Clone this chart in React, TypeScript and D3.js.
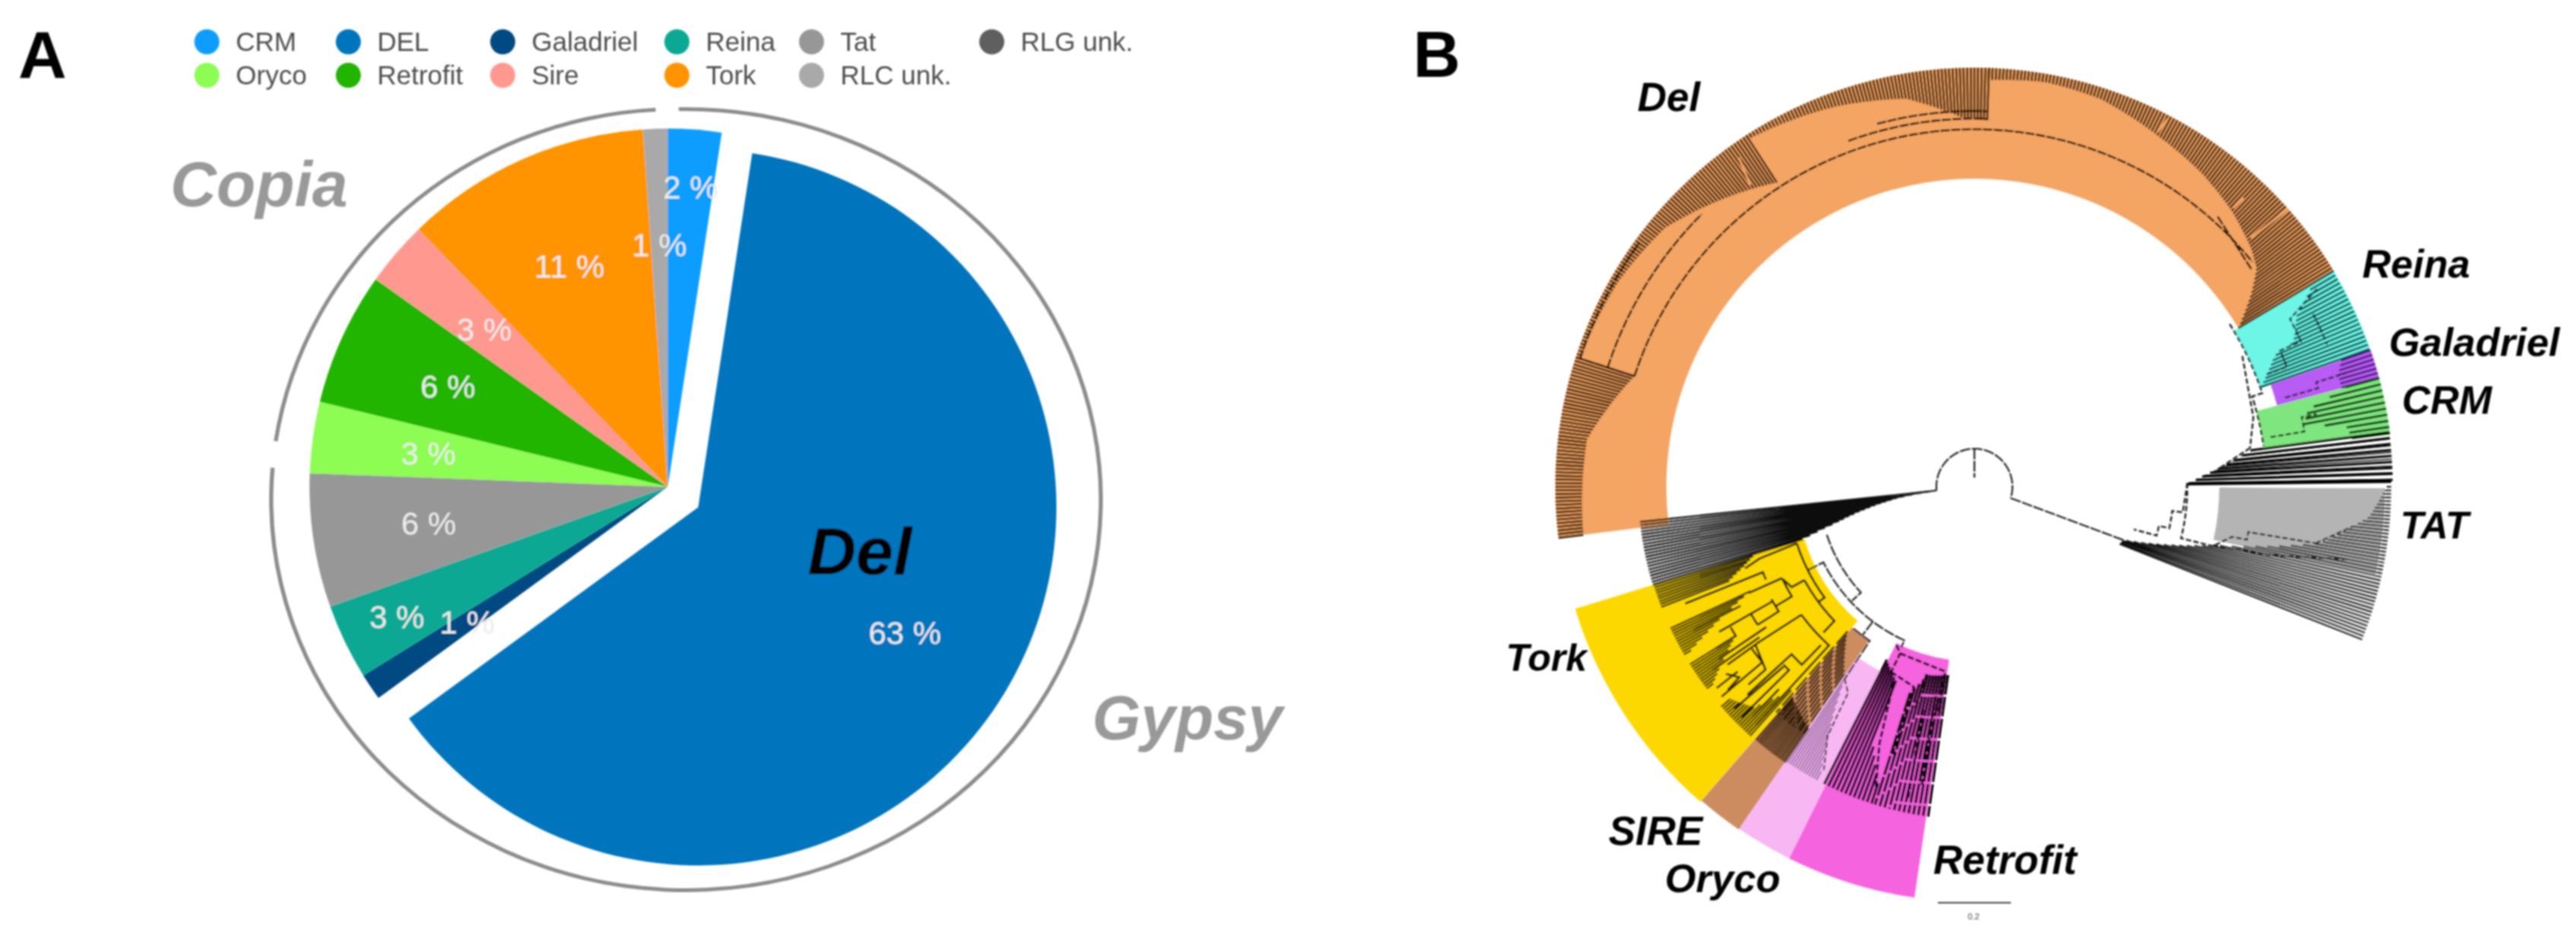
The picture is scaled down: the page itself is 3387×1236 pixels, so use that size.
import * as d3 from 'd3';
import React, { useEffect, useRef } from "react";

type PolarPoint = [number, number];

// Panel A: share of each lineage
const pieFamilies = ['CRM', 'DEL', 'Galadriel', 'Reina', 'Tat', 'Oryco', 'Retrofit', 'Sire', 'Tork', 'RLC unk.'];
const pieShares = [2.4, 62.3, 1.2, 3.4, 6.0, 3.2, 6.0, 2.9, 11.1, 1.1];
const pieLabels = ['2 %', '63 %', '1 %', '3 %', '6 %', '3 %', '6 %', '3 %', '11 %', '1 %'];
const pieColors = ['#0a9dff', '#0175bd', '#004a82', '#09a893', '#979797', '#8dfc52', '#20b500', '#ff9990', '#ff9300', '#a9a9a9'];

const legendRow1 = ['CRM', 'DEL', 'Galadriel', 'Reina', 'Tat', 'RLG unk.'];
const legendRow1Colors = ['#0a9dff', '#0175bd', '#004a82', '#09a893', '#979797', '#5e5e5e'];
const legendRow2 = ['Oryco', 'Retrofit', 'Sire', 'Tork', 'RLC unk.'];
const legendRow2Colors = ['#8dfc52', '#20b500', '#ff9990', '#ff9300', '#a9a9a9'];

// Panel B: coloured clades, angles in degrees clockwise from the top, radii in px from the root
const cladeNames = ['Del', 'Reina', 'Galadriel', 'CRM', 'TAT', 'Tork', 'SIRE', 'Oryco', 'Retrofit'];
const cladeStart = [263, 59, 71, 75, 90.2, 221, 214.5, 206.5, 188.3];
const cladeEnd = [419, 71, 75, 82.5, 102.5, 253, 221, 214.5, 206.5];
const cladeInner = [405, 398, 412, 384, 322, 234, 245, 272, 230];
const cladeOuter = [551, 551, 551, 551, 540, 549, 547, 546, 546];
const cladeColors = ['#f4a464', '#6df5e5', '#b95cf5', '#7fe67f', '#b4b4b4', '#fdd800', '#cd8c5f', '#f8b7f2', '#f564df'];

// inner edge of the leaf fans, as [angle, radius]
const delTips1: PolarPoint[] = [[263, 518], [277, 513], [288, 470]];
const delTips2: PolarPoint[] = [[288, 545], [300, 540], [310, 530], [327, 477]];
const delTips3: PolarPoint[] = [[327, 545], [340, 532], [350, 518], [358.5, 484], [362, 482]];
const delTips4: PolarPoint[] = [[362, 535], [370, 540], [378, 536], [388, 520], [396, 509], [403, 496], [409.3, 480], [412.3, 469], [415, 445], [419, 405]];
const delGaps: PolarPoint[][] = [
    [[323.4, 494], [324.4, 532]],
    [[27.3, 525], [27.7, 546]],
    [[42.9, 500], [43, 519]],
    [[48, 489], [48.5, 551]],
];
const reinaTips: PolarPoint[] = [[59, 520], [62, 480], [65.7, 460], [66.5, 430], [71, 398]];
const galadrielTips: PolarPoint[] = [[71, 510], [73, 500], [75, 500]];
const crmTips: PolarPoint[] = [[75, 505], [77, 450], [79.5, 440], [80.7, 495], [82.5, 500]];
const moireTips: PolarPoint[] = [[82.5, 366], [87.3, 301], [89.3, 280]];
const tatTips: PolarPoint[] = [[90, 542], [94.3, 521], [99.3, 460], [103.8, 323], [109.7, 208], [111.7, 205]];
const fanTips: PolarPoint[] = [[253, 236], [255.5, 187], [262, 100], [264, 60]];
const torkTips1: PolarPoint[] = [[249, 345], [251, 320], [253, 300]];
const torkTips2: PolarPoint[] = [[240, 430], [245, 325]];
const torkTips3: PolarPoint[] = [[233, 430], [238, 370]];
const torkTips4: PolarPoint[] = [[222, 360], [225, 410], [229, 425]];
const sireTips: PolarPoint[] = [[214.5, 385], [221, 365]];
const sireStems: PolarPoint[] = [[214.8, 300], [221, 255]];
const orycoTips: PolarPoint[] = [[208.3, 425], [214, 305]];
const retrofitTips1: PolarPoint[] = [[198, 410], [201.3, 365], [202, 275], [206.5, 256]];
const retrofitTips2: PolarPoint[] = [[188, 250], [194, 255], [197.5, 285]];

// branches
const stemBranches: PolarPoint[][] = [
    [[264.4, 50], [467.4, 50]],
    [[0, 50], [0, 12]],
    [[107.4, 50], [109.7, 208]],
    [[264.4, 50], [263.5, 110]],
    [[252, 204], [227, 204], [227, 220]],
    [[243.4, 245], [243.4, 222], [204.5, 222], [204.5, 232]],
    [[217, 222], [217, 245]],
    [[220.5, 245], [214.2, 245], [214, 305]],
];
const rightBranches: PolarPoint[][] = [
    [[57.5, 398], [72, 398], [72, 384], [82, 384]],
    [[64, 392], [76, 378], [82, 366]],
    [[82, 366], [86, 320]],
    [[89, 280], [104, 280], [104, 323], [101, 345], [101, 365], [99.4, 365], [99.4, 455]],
    [[89, 280], [97, 276], [97, 262], [102, 262], [102, 248], [105, 248], [105, 217]],
    [[103.8, 323], [103, 400], [101, 500]],
    [[99.4, 455], [96, 500]],
    [[60, 520], [62, 470], [66, 470], [66, 440], [69, 440], [69, 410]],
    [[63, 500], [68, 500]],
    [[74, 425], [74, 470], [73, 470], [73, 510]],
    [[80.5, 395], [80.5, 440], [78, 440], [78, 460]],
];
const delBranches: PolarPoint[][] = [
    [[288, 470], [411, 470]],
    [[288, 507], [315, 507]],
    [[288, 545], [306, 545]],
    [[340, 484], [362, 484]],
    [[345, 494], [362, 494]],
    [[402, 478], [412, 463]],
    [[288, 470], [288, 547]],
];
const torkBranches: PolarPoint[][] = [
    [[252.3, 245], [233.5, 245], [233.5, 255]],
    [[241.2, 255], [226.2, 255], [226, 276]],
    [[241.2, 255], [241.2, 274], [244.4, 280], [239, 280], [239, 305]],
    [[244.6, 280], [244.8, 328]],
    [[252.3, 245], [251.5, 298], [250.4, 320]],
    [[241, 305], [237.5, 305], [237.5, 338]],
    [[240.4, 305], [240.4, 386]],
    [[240.4, 338], [237.5, 338]],
    [[240, 370], [238, 370], [238, 400]],
    [[233.5, 283], [222.5, 283], [222.5, 425]],
    [[233.5, 283], [234.2, 349], [234.2, 400]],
    [[234.2, 355], [228.8, 365], [228.8, 395]],
    [[233.9, 362], [230.4, 362], [230.3, 432]],
    [[233, 409], [231, 398], [230.5, 420]],
    [[224.1, 290], [224.1, 326], [227.5, 326], [227.5, 405]],
    [[227, 343], [225.3, 343], [225.3, 431]],
    [[226.7, 345], [227.2, 430]],
    [[224, 370], [224, 420]],
    [[236, 330], [236, 405]],
    [[235, 345], [235, 420]],
    [[243, 345], [243, 415]],
    [[246, 300], [248, 300], [248, 410]],
    [[232, 395], [232, 430]],
];
const retrofitBranches: PolarPoint[][] = [
    [[204, 240], [189, 246], [189, 300]],
    [[206.2, 232], [204, 240], [204.2, 267]],
    [[204.2, 267], [196.8, 275], [197, 370]],
    [[202.4, 278], [200.3, 360], [198, 420]],
    [[194.3, 254], [195, 300]],
    [[193, 300], [192, 420]],
    [[190.5, 280], [190, 400]],
];
const orycoBranches: PolarPoint[][] = [
    [[214, 305], [211.5, 318], [210.5, 380], [208, 422]],
];

const deg = d3.scaleLinear().domain([0, 360]).range([0, 2 * Math.PI]);
const radius = d3.scaleLinear().domain([0, 550]).range([0, 550]);

// leaf lines between a read inner edge and the clade's outer radius
const tipPath = (edge: PolarPoint[], outer: number, step: number) => {
    const innerAt = d3.scaleLinear().domain(edge.map(d => d[0])).range(edge.map(d => d[1]));
    const radial = d3.lineRadial<PolarPoint>().angle(d => deg(d[0])).radius(d => radius(d[1]));
    const from = edge[0][0];
    const to = edge[edge.length - 1][0];
    return d3.range(from, to + step / 2, step)
        .map(a => radial([[a, innerAt(a)], [a, outer]]))
        .join('');
};

// equal radius between two points means an arc, anything else a straight run
const branchPath = (points: PolarPoint[]) => {
    const expanded: PolarPoint[] = [];
    points.forEach((p, i) => {
        const next = points[i + 1];
        expanded.push(p);
        if (next && next[1] === p[1]) {
            const n = Math.ceil(Math.abs(next[0] - p[0]));
            d3.range(1, n).forEach(k => expanded.push([p[0] + (next[0] - p[0]) * k / n, p[1]]));
        }
    });
    return d3.lineRadial<PolarPoint>().angle(d => deg(d[0])).radius(d => radius(d[1]))(expanded);
};

const App: React.FC = () => {
    const ref = useRef<SVGSVGElement>(null);

    useEffect(() => {
        if (ref.current) {
            const svg = d3.select(ref.current);
            svg.selectAll('*').remove();

            svg.append('defs').append('filter')
                .attr('id', 'soft')
                .attr('x', 0).attr('y', 0).attr('width', 1).attr('height', 1)
                .attr('filterUnits', 'objectBoundingBox')
                .append('feGaussianBlur')
                .attr('stdDeviation', 0.8);

            svg.append('rect').attr('width', 3387).attr('height', 1236).attr('fill', '#fff');
            const root = svg.append('g').attr('filter', 'url(#soft)').attr('font-family', '"Liberation Sans", Arial, sans-serif');

            // panel letters
            root.append('text').attr('x', 24).attr('y', 102).attr('font-size', 88).attr('font-weight', 700).text('A');
            root.append('text').attr('x', 1858).attr('y', 101).attr('font-size', 86).attr('font-weight', 700).text('B');

            // legend
            const legendDotX = [272, 458, 661, 890, 1067, 1304];
            const legend = root.append('g').attr('font-size', 35).attr('fill', '#4d4d4d');
            [
                { names: legendRow1, colors: legendRow1Colors, y: 55 },
                { names: legendRow2, colors: legendRow2Colors, y: 99 },
            ].forEach(row => {
                row.names.forEach((name, i) => {
                    legend.append('circle')
                        .attr('cx', legendDotX[i]).attr('cy', row.y).attr('r', 16.5)
                        .attr('fill', row.colors[i]);
                    legend.append('text')
                        .attr('x', legendDotX[i] + 38).attr('y', row.y + 12)
                        .text(name);
                });
            });

            // pie
            const pie = d3.pie<number>().value(d => d).sort(null);
            const arcs = pie(pieShares);
            const arc = d3.arc<d3.PieArcDatum<number>>().innerRadius(0).outerRadius(471);
            const labelArc = d3.arc<d3.PieArcDatum<number>>().innerRadius(318).outerRadius(318);
            const farLabelArc = d3.arc<d3.PieArcDatum<number>>().innerRadius(395).outerRadius(395);

            const sliceGroup = (i: number) => root.append('g')
                .attr('transform', pieFamilies[i] === 'DEL' ? 'translate(918,667)' : 'translate(878,640)');

            arcs.forEach((d, i) => {
                sliceGroup(i).append('path').attr('d', arc(d)).attr('fill', pieColors[i]);
            });
            arcs.forEach((d, i) => {
                const far = pieFamilies[i] === 'CRM' || pieFamilies[i] === 'Reina';
                const [x, y] = (far ? farLabelArc : labelArc).centroid(d);
                sliceGroup(i).append('text')
                    .attr('x', x).attr('y', y)
                    .attr('dy', '0.36em')
                    .attr('text-anchor', 'middle')
                    .attr('font-size', 42)
                    .attr('fill', '#ececec')
                    .text(pieLabels[i]);
            });

            // Gypsy and Copia brackets round the pie
            const bracket = d3.arc<any>().innerRadius(511).outerRadius(516);
            root.append('path')
                .attr('transform', `translate(902,657) scale(${547 / 515},1)`)
                .attr('d', bracket({ startAngle: deg(-1), endAngle: deg(274.7) }))
                .attr('fill', '#8c8c8c');
            root.append('path')
                .attr('transform', `translate(890,657) scale(${535 / 515},1)`)
                .attr('d', bracket({ startAngle: deg(278.6), endAngle: deg(357) }))
                .attr('fill', '#8c8c8c');

            const pieTitle = root.append('g').attr('font-weight', 700).attr('font-style', 'italic');
            pieTitle.append('text').attr('x', 224).attr('y', 271).attr('font-size', 84).attr('fill', '#999').text('Copia');
            pieTitle.append('text').attr('x', 1436).attr('y', 972).attr('font-size', 82).attr('fill', '#999').text('Gypsy');
            pieTitle.append('text').attr('x', 1062).attr('y', 755).attr('font-size', 88).attr('fill', '#000').text('Del');

            // tree
            const tree = root.append('g').attr('transform', 'translate(2596,640)');
            const sector = d3.arc<any>();
            cladeNames.forEach((name, i) => {
                tree.append('path')
                    .attr('d', sector({
                        innerRadius: radius(cladeInner[i]),
                        outerRadius: radius(cladeOuter[i]),
                        startAngle: deg(cladeStart[i]),
                        endAngle: deg(cladeEnd[i]),
                    }))
                    .attr('fill', cladeColors[i]);
            });

            const tips = (edge: PolarPoint[], outer: number, step: number, color: string, width: number, dash?: string) => {
                tree.append('path')
                    .attr('d', tipPath(edge, outer, step))
                    .attr('fill', 'none')
                    .attr('stroke', color)
                    .attr('stroke-width', width)
                    .attr('stroke-dasharray', dash ?? null);
            };

            [delTips1, delTips2, delTips3, delTips4].forEach(edge => tips(edge, 551, 0.5, '#2e1b0a', 2.6));
            delGaps.forEach(g => {
                tree.append('path').attr('d', branchPath(g)).attr('fill', 'none').attr('stroke', '#f4a464').attr('stroke-width', 3);
            });
            tips(reinaTips, 550, 0.62, '#0b4a48', 2.6);
            tips(galadrielTips, 551, 0.65, '#3d1a6a', 2.6);
            tips(crmTips, 551, 0.85, '#123d12', 3.2);
            tips(moireTips, 550, 0.82, '#000', 3);
            tips(moireTips, 550, 0.93, '#000', 1.5);
            tips(tatTips, 548, 0.5, '#111', 2);
            tips(fanTips, 442, 0.55, '#111', 2.4);
            tips(torkTips1, 441, 0.5, '#111', 2.4);
            tips(torkTips2, 441, 0.5, '#2b2400', 2.4);
            tips(torkTips3, 441, 0.5, '#2b2400', 2.4);
            tips(torkTips4, 441, 0.5, '#2b2400', 2.4);
            tips(sireTips, 440, 0.42, '#2e1b0a', 2.2);
            tips(sireStems, 395, 0.65, '#2e1b0a', 2.4, '22 5');
            tips(orycoTips, 438, 0.48, '#6e4a80', 1.5);
            tips(retrofitTips1, 438, 0.8, '#120012', 3.4);
            tips(retrofitTips2, 438, 0.85, '#000', 3.4, '26 3');

            const branches = (paths: PolarPoint[][], color: string, width: number, dash?: string) => {
                paths.forEach(p => {
                    tree.append('path')
                        .attr('d', branchPath(p))
                        .attr('fill', 'none')
                        .attr('stroke', color)
                        .attr('stroke-width', width)
                        .attr('stroke-dasharray', dash ?? null);
                });
            };

            branches(stemBranches, '#222', 2.2, '14 2');
            branches(rightBranches, '#222', 2.4, '7 3');
            branches(delBranches, '#1a0f05', 2.6, '12 2');
            branches(torkBranches, '#1f1a00', 2.8);
            branches(retrofitBranches, '#000', 3, '8 3');
            branches(orycoBranches, '#333', 2.2, '7 3');

            // thick edge of the TAT clade
            tree.append('path')
                .attr('d', branchPath([[89.3, 280], [89.3, 548]]))
                .attr('stroke', '#000')
                .attr('stroke-width', 3.5)
                .attr('fill', 'none');

            const cladeLabels = root.append('g').attr('font-weight', 700).attr('font-style', 'italic').attr('fill', '#000');
            [
                { text: 'Del', x: 2153, y: 146, size: 53 },
                { text: 'Reina', x: 3106, y: 365, size: 52 },
                { text: 'Galadriel', x: 3141, y: 468, size: 52.5 },
                { text: 'CRM', x: 3158, y: 544, size: 52 },
                { text: 'TAT', x: 3156, y: 708, size: 50 },
                { text: 'Tork', x: 1980, y: 882, size: 50 },
                { text: 'SIRE', x: 2115, y: 1111, size: 53 },
                { text: 'Oryco', x: 2189, y: 1173, size: 52.5 },
                { text: 'Retrofit', x: 2542, y: 1149, size: 53 },
            ].forEach(l => {
                cladeLabels.append('text').attr('x', l.x).attr('y', l.y).attr('font-size', l.size).text(l.text);
            });

            // scale bar
            root.append('line')
                .attr('x1', 2548).attr('x2', 2644).attr('y1', 1187).attr('y2', 1187)
                .attr('stroke', '#444').attr('stroke-width', 2);
            root.append('text')
                .attr('x', 2595).attr('y', 1209).attr('text-anchor', 'middle')
                .attr('font-size', 11).attr('fill', '#444').text('0.2');
        }
    }, []);

    return (
        <svg
            ref={ref}
            width={3387}
            height={1236}
            style={{ position: 'absolute', left: 0, top: 0, display: 'block' }}
        ></svg>
    );
};

export default App;
